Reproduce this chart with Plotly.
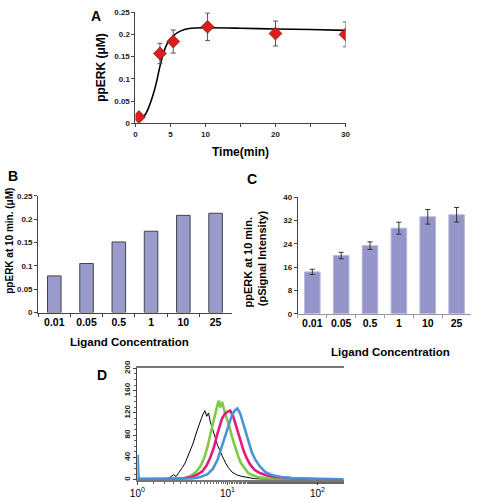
import plotly.graph_objects as go

# ---- Panel A data ----
time_pts = [0.5, 3.5, 5.4, 10.3, 20, 30]
ppERK_pts = [0.014, 0.157, 0.184, 0.217, 0.202, 0.200]
ppERK_err = [0.0, 0.023, 0.026, 0.031, 0.028, 0.028]
fit_t = [0.5, 1.0, 1.5, 2.0, 2.5, 3.0, 3.5, 4.0, 4.5, 5.0, 5.5, 6.0, 7.0, 8.0, 10, 15, 20, 25, 30]
fit_v = [0.008, 0.012, 0.022, 0.040, 0.063, 0.092, 0.128, 0.158, 0.178, 0.190, 0.198, 0.204,
         0.211, 0.214, 0.215, 0.214, 0.212, 0.211, 0.209]
time_ticks = [0, 5, 10, 20, 30]
time_minor_ticks = [15, 25]

# ---- Panel B / C data ----
ligand = ["0.01", "0.05", "0.5", "1", "10", "25"]
ppERK_B = [0.0785, 0.105, 0.151, 0.174, 0.208, 0.2125]
signal_C = [14.4, 20.0, 23.4, 29.4, 33.3, 34.0]
signal_C_err = [0.9, 1.1, 1.3, 2.05, 2.5, 2.5]

# ---- Panel D data (log10 intensity, counts) ----
lx_black = [0.0, 0.30, 0.36, 0.40, 0.43, 0.46, 0.50, 0.53, 0.56, 0.59, 0.62, 0.65, 0.67, 0.69,
            0.71, 0.73, 0.75, 0.77, 0.79, 0.81, 0.83, 0.86, 0.89, 0.92, 0.95, 0.98, 1.01, 1.05,
            1.10, 1.16, 1.22, 1.30, 1.40, 2.29]
cnt_black = [0, 0, 4, 9, 6, 12, 22, 30, 42, 52, 66, 82, 92, 104, 110, 118, 124, 114, 120, 104,
             92, 78, 62, 50, 40, 30, 22, 14, 9, 6, 4, 2, 1, 0]
lx_green = [0.0, 0.5, 0.55, 0.60, 0.65, 0.70, 0.74, 0.78, 0.82, 0.85, 0.88, 0.90, 0.92, 0.94,
            0.96, 0.98, 1.00, 1.03, 1.06, 1.09, 1.12, 1.15, 1.19, 1.23, 1.28, 1.34, 1.42, 1.55, 2.29]
cnt_green = [1, 2, 4, 8, 14, 24, 38, 60, 88, 110, 128, 142, 130, 140, 128, 118, 104, 90, 72, 56,
             42, 30, 20, 12, 8, 5, 3, 1, 0]
lx_mag = [0.0, 0.5, 0.6, 0.66, 0.72, 0.77, 0.81, 0.85, 0.88, 0.91, 0.94, 0.97, 1.00, 1.03, 1.06,
          1.09, 1.12, 1.15, 1.18, 1.21, 1.25, 1.30, 1.36, 1.43, 1.52, 1.62, 1.75, 2.0, 2.29]
cnt_mag = [1, 2, 5, 9, 15, 26, 40, 58, 78, 96, 110, 118, 122, 124, 116, 100, 84, 66, 52, 40, 28,
           18, 12, 8, 5, 4, 2, 1, 0]
lx_blue = [0.004, 0.004, 0.012, 0.03, 0.30, 0.60, 0.70, 0.78, 0.84, 0.89, 0.93, 0.97, 1.01, 1.05,
           1.08, 1.11, 1.14, 1.17, 1.20, 1.23, 1.27, 1.31, 1.36, 1.42, 1.50, 1.60, 1.72, 1.90,
           2.10, 2.29]
cnt_blue = [0, 45, 5, 2, 1, 2, 5, 10, 20, 36, 56, 78, 98, 116, 124, 128, 120, 104, 86, 68, 50, 36,
            24, 14, 8, 5, 3, 2, 1, 1]

FONT = "Liberation Sans, Arial, sans-serif"
W, H = 477, 502


def px(x):
    return x / W


def py(y):
    return 1 - y / H


fig = go.Figure()

# Panel A
fig.add_trace(go.Scatter(x=fit_t, y=fit_v, mode="lines", line=dict(color="black", width=1.6, shape="spline"),
                         xaxis="x", yaxis="y", showlegend=False))
fig.add_trace(go.Scatter(x=time_pts, y=ppERK_pts, mode="markers",
                         marker=dict(symbol="diamond", size=10, color="#d91e1e", line=dict(color="#7a0c0c", width=0.6)),
                         error_y=dict(type="data", array=ppERK_err, color="#555", thickness=1, width=2.5),
                         xaxis="x", yaxis="y", showlegend=False))

# Panel B
fig.add_trace(go.Bar(x=ligand, y=ppERK_B, width=0.42,
                     marker=dict(color="#9a9acd", line=dict(color="#444", width=1)),
                     xaxis="x2", yaxis="y2", showlegend=False))

# Panel C
fig.add_trace(go.Bar(x=ligand, y=signal_C, width=0.54,
                     marker=dict(color="#9595c9", line=dict(color="#b8b8d8", width=1)),
                     error_y=dict(type="data", array=signal_C_err, color="#333", thickness=1, width=2.5),
                     xaxis="x3", yaxis="y3", showlegend=False))

# Panel D
for lx, cnt, col, w in [(lx_black, cnt_black, "black", 1.0),
                        (lx_green, cnt_green, "#7ccb47", 2.6),
                        (lx_mag, cnt_mag, "#e6197e", 2.6),
                        (lx_blue, cnt_blue, "#4a94d4", 2.6)]:
    fig.add_trace(go.Scatter(x=[10 ** v for v in lx], y=cnt, mode="lines", line=dict(color=col, width=w),
                             xaxis="x4", yaxis="y4", showlegend=False))

tick_font = dict(family=FONT, size=8, color="#222", weight="bold")
cat_font = dict(family=FONT, size=10.5, color="black", weight="bold")
axis_common = dict(showline=True, linecolor="#444", linewidth=1, ticks="outside", ticklen=3,
                   tickcolor="#444", showgrid=False, zeroline=False, tickfont=tick_font)

fig.update_layout(
    width=W, height=H, margin=dict(l=0, r=0, t=0, b=0),
    paper_bgcolor="white", plot_bgcolor="white",
    xaxis=dict(domain=[px(131), px(347)], range=[0, 30], anchor="y",
               tickvals=time_ticks,
               minor=dict(tickvals=time_minor_ticks, ticks="outside", ticklen=3, tickcolor="#444", showgrid=False),
               **axis_common),
    yaxis=dict(domain=[py(118.3), py(4.3)], range=[0, 0.25], anchor="x",
               tickvals=[0, 0.05, 0.1, 0.15, 0.2, 0.25], ticktext=["0", "0.05", "0.1", "0.15", "0.2", "0.25"],
               **axis_common),
    xaxis2=dict(domain=[px(31), px(230)], anchor="y2", type="category", tickson="boundaries", tickangle=0,
                **{**axis_common, "tickfont": cat_font}),
    yaxis2=dict(domain=[py(312.7), py(192.7)], range=[0, 0.25], anchor="x2",
                tickvals=[0, 0.05, 0.1, 0.15, 0.2, 0.25], ticktext=["0", "0.05", "0.1", "0.15", "0.2", "0.25"],
                **axis_common),
    xaxis3=dict(domain=[px(298), px(476)], anchor="y3", type="category", tickson="boundaries", tickangle=0,
                **{**axis_common, "linecolor": "#999", "tickcolor": "#999", "tickfont": cat_font}),
    yaxis3=dict(domain=[py(314), py(194.3)], range=[0, 40], anchor="x3",
                tickvals=[0, 8, 16, 24, 32, 40], **axis_common),
    xaxis4=dict(domain=[px(133), px(345)], type="log", range=[0, 2.29], anchor="y4",
                tickvals=[1, 10, 100], ticktext=["10<sup>0</sup>", "10<sup>1</sup>", "10<sup>2</sup>"],
                showline=True, linecolor="#777", linewidth=1.5, mirror=True, ticks="outside", ticklen=3,
                tickcolor="#444", showgrid=False, zeroline=False,
                minor=dict(ticks="outside", ticklen=2, tickcolor="#666", showgrid=False),
                tickfont=dict(family=FONT, size=10, color="black")),
    yaxis4=dict(domain=[py(484.3), py(370)], range=[0, 200], anchor="x4",
                tickvals=[0, 40, 80, 120, 160, 200], tickangle=-90,
                showline=True, linecolor="#444", linewidth=1, ticks="outside", ticklen=3,
                tickcolor="#444", showgrid=False, zeroline=False,
                minor=dict(ticks="outside", ticklen=2, dtick=10, tickcolor="#666", showgrid=False),
                tickfont=dict(family=FONT, size=8, color="#222", weight="bold")),
)


def ann(text, x, y, size=11.5, angle=0, xanchor="center"):
    fig.add_annotation(text=text, x=px(x), y=py(y), xref="paper", yref="paper", showarrow=False,
                       textangle=angle, xanchor=xanchor, yanchor="middle",
                       font=dict(family=FONT, size=size, color="black", weight="bold"))


ann("A", 90, 8, size=14)
ann("ppERK (μM)", 96, 61, size=12, angle=-90)
ann("Time(min)", 239, 148, size=12)

ann("B", 5, 172, size=14)
ann("ppERK at 10 min. (μM)", 2, 239, size=10, angle=-90)
ann("Ligand Concentration", 125, 343, size=11.5)

ann("C", 251, 176, size=14)
ann("ppERK at 10 min.", 247, 261, size=11, angle=-90)
ann("(pSignal Intensity)", 261, 257, size=11, angle=-90)
ann("Ligand Concentration", 393, 353, size=11.5)

ann("D", 97, 377, size=14)

fig.write_html("out.html", config={"displayModeBar": False},
               post_script="document.body.style.margin='0';")
